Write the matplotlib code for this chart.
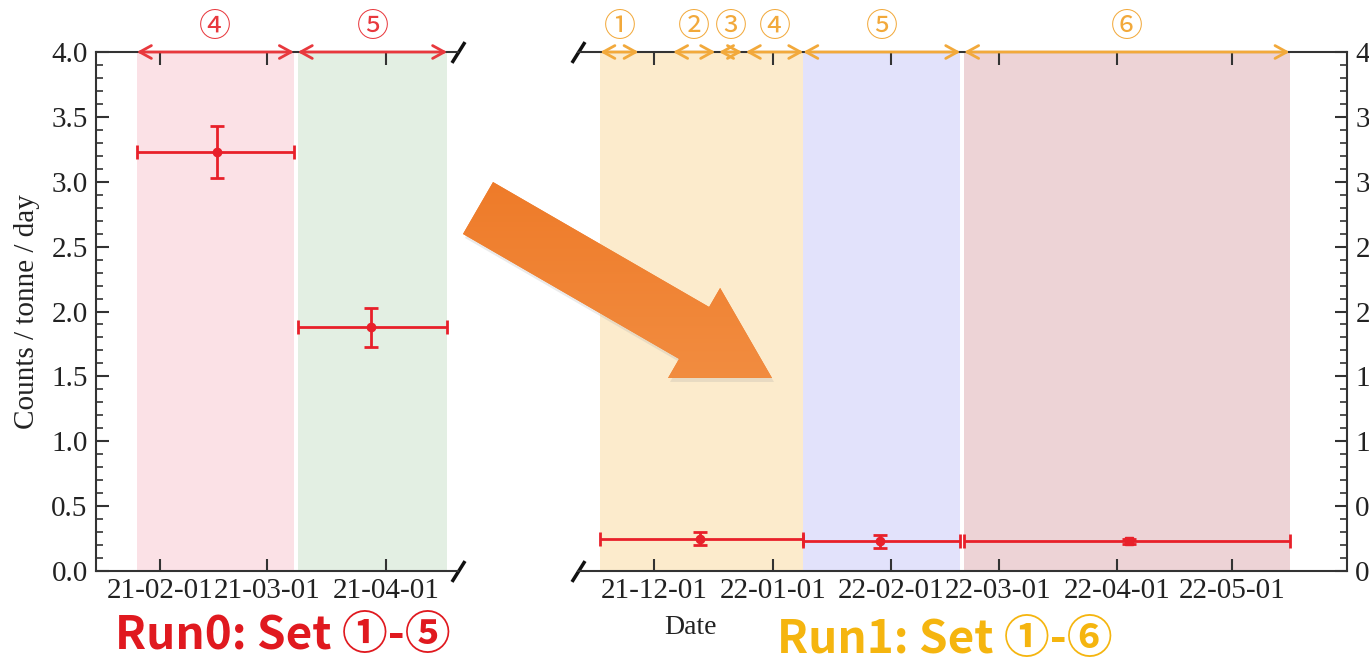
import matplotlib.pyplot as plt
import matplotlib.dates as mdates
import numpy as np
import pandas as pd
from matplotlib.patches import FancyArrow
from matplotlib.ticker import MultipleLocator

# Run0: rate per data-taking set
run0_sets = ['④', '⑤']
run0_start = ['2021-01-26', '2021-03-09']
run0_end = ['2021-03-08', '2021-04-17']
run0_mid = ['2021-02-16', '2021-03-28']
run0_rate = [3.23, 1.88]
run0_err = [0.20, 0.15]
run0_shade = ['#fbe1e6', '#e3efe3']

# Run1: set boundaries (top arrows) and grouped rates
run1_sets = ['①', '②', '③', '④', '⑤', '⑥']
run1_set_start = ['2021-11-17', '2021-12-06', '2021-12-18', '2021-12-25', '2022-01-09', '2022-02-20']
run1_set_end = ['2021-11-27', '2021-12-17', '2021-12-24', '2022-01-09', '2022-02-19', '2022-05-16']
run1_start = ['2021-11-17', '2022-01-09', '2022-02-20']
run1_end = ['2022-01-09', '2022-02-19', '2022-05-16']
run1_mid = ['2021-12-13', '2022-01-29', '2022-04-04']
run1_rate = [0.25, 0.23, 0.23]
run1_err = [0.05, 0.05, 0.02]
run1_shade = ['#fcebcc', '#e2e2fb', '#edd3d6']

plt.rcParams['font.family'] = ['Liberation Serif', 'DejaVu Serif']
plt.rcParams['font.size'] = 21

W, H = 1369, 665
fig = plt.figure(figsize=(W / 100, H / 100), dpi=100)


def dnum(dates):
    return mdates.date2num(pd.to_datetime(dates))


def panel(ax, start, end, mid, rate, err, shade, sets, set_start, set_end,
          set_color, marker_list, side):
    s, e, m = dnum(start), dnum(end), dnum(mid)
    for a, b, c in zip(s, e, shade):
        ax.axvspan(a, b, color=c, lw=0, zorder=0)
    for i in range(len(m)):
        ax.errorbar(m[i], rate[i], yerr=err[i],
                    xerr=[[m[i] - s[i]], [e[i] - m[i]]],
                    fmt=marker_list[i], color='#e8202a', ms=6, lw=2,
                    capsize=5, capthick=2, zorder=3)

    # set ranges drawn on the top edge
    ss, se = dnum(set_start), dnum(set_end)
    for lab, a, b in zip(sets, ss, se):
        ax.annotate('', xy=(b, 4.0), xytext=(a, 4.0),
                    arrowprops=dict(arrowstyle='<->, head_length=0.4, head_width=0.22',
                                    color=set_color, lw=2,
                                    shrinkA=0, shrinkB=0, mutation_scale=21),
                    annotation_clip=False, zorder=5)
        ax.text((a + b) / 2, 4.19, lab, color=set_color, ha='center', va='center',
                fontsize=23, family=['Noto Sans CJK SC', 'DejaVu Sans'])

    ax.set_ylim(0, 4.0)
    ax.yaxis.set_major_locator(MultipleLocator(0.5))
    ax.yaxis.set_minor_locator(MultipleLocator(0.1))
    ax.yaxis.set_major_formatter(plt.FormatStrFormatter('%.1f'))
    ax.xaxis.set_major_locator(mdates.MonthLocator())
    ax.xaxis.set_major_formatter(mdates.DateFormatter('%y-%m-%d'))
    ax.tick_params(axis='both', which='major', direction='in', length=9,
                   width=1.5, color='#333333', labelcolor='#222222')
    ax.tick_params(axis='both', which='minor', direction='in', length=5,
                   width=1.2, color='#333333')
    ax.tick_params(axis='x', top=True, pad=5)
    ax.tick_params(axis='x', which='minor', bottom=False, top=False)
    for sp in ax.spines.values():
        sp.set_linewidth(1.5)
        sp.set_color('#333333')

    # broken-axis marks
    bx = 1 if side == 'left' else 0
    ax.spines['right' if side == 'left' else 'left'].set_visible(False)
    ax.plot([bx, bx], [0, 1], transform=ax.transAxes, marker=[(-1, -1.6), (1, 1.6)],
            markersize=15, linestyle='none', color='#111111', mew=2.5, clip_on=False)


bottom = 1 - 571 / H
height = (571 - 52) / H

ax0 = fig.add_axes([96 / W, bottom, (458 - 96) / W, height])
panel(ax0, run0_start, run0_end, run0_mid, run0_rate, run0_err, run0_shade,
      run0_sets, run0_start, run0_end, '#e8383d', ['o', 'o'], 'left')
ax0.set_xlim(dnum(['2021-01-15 08:00'])[0], dnum(['2021-04-19 20:00'])[0])
ax0.tick_params(axis='y', which='both', left=True, right=False, pad=6)
ax0.set_ylabel('Counts / tonne / day', fontsize=21, labelpad=8, color='#222222')

ax1 = fig.add_axes([578 / W, bottom, (1347 - 578) / W, height])
panel(ax1, run1_start, run1_end, run1_mid, run1_rate, run1_err, run1_shade,
      run1_sets, run1_set_start, run1_set_end, '#f2a93b', ['o', 'o', 's'], 'right')
ax1.set_xlim(dnum(['2021-11-11 04:00'])[0], dnum(['2022-05-31'])[0])
ax1.yaxis.tick_right()
ax1.tick_params(axis='y', which='both', left=False, right=True, pad=6)

fig.text(690 / W, 1 - 628 / H, 'Date', ha='center', va='center', fontsize=20,
         color='#222222')

cjk = ['Noto Sans CJK SC', 'DejaVu Sans']
fig.text(283 / W, 1 - 636 / H, 'Run0: Set ①-⑤', ha='center', va='center',
         fontsize=33, fontweight='bold', color='#e0191f', family=cjk)
fig.text(945 / W, 1 - 640 / H, 'Run1: Set ①-⑥', ha='center', va='center',
         fontsize=33, fontweight='bold', color='#f5b50f', family=cjk)

# big orange arrow on top of everything, in pixel units
over = fig.add_axes([0, 0, 1, 1], zorder=10)
over.set_xlim(0, W)
over.set_ylim(H, 0)
over.axis('off')
tail = np.array([478.0, 208.0])
tip = np.array([772.0, 378.0])
d = tip - tail
shadow = FancyArrow(tail[0] + 2, tail[1] + 4, d[0], d[1], width=60, head_width=104,
                    head_length=90, length_includes_head=True, color='#9a9a9a',
                    alpha=0.2, lw=0)
over.add_patch(shadow)
arrow = FancyArrow(tail[0], tail[1], d[0], d[1], width=60, head_width=104,
                   head_length=90, length_includes_head=True, color='#ef8033', lw=0)
over.add_patch(arrow)
grad = np.linspace(0, 1, 256).reshape(-1, 1)
cmap = plt.matplotlib.colors.LinearSegmentedColormap.from_list(
    'org', ['#f39146', '#ee7a28'])
img = over.imshow(grad, extent=(440, 800, 170, 430), cmap=cmap, aspect='auto',
                  zorder=2)
img.set_clip_path(arrow)
over.set_xlim(0, W)
over.set_ylim(H, 0)

fig.savefig('out.png', dpi=100)
